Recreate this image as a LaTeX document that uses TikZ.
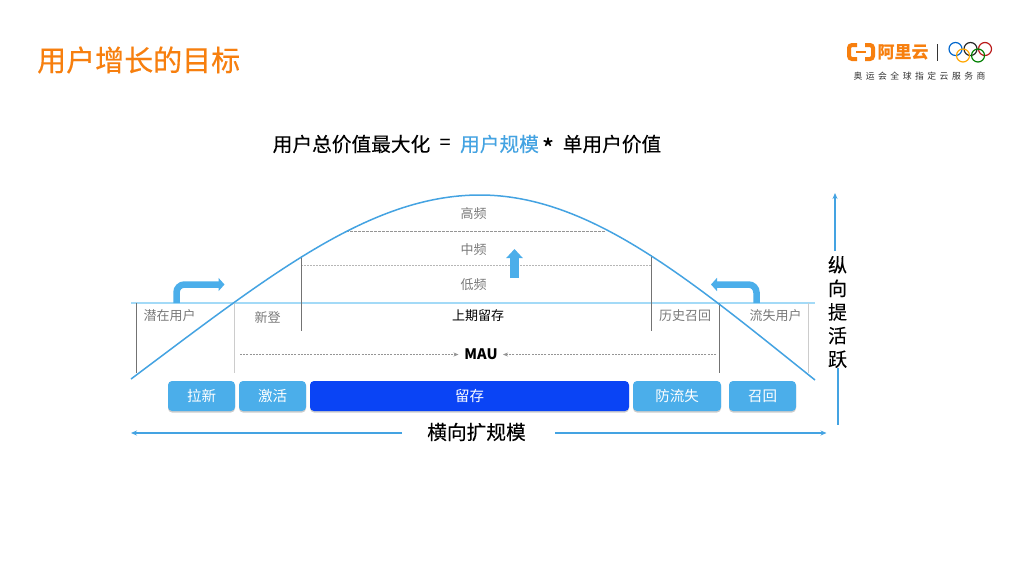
\documentclass[tikz,border=0pt]{standalone}
\usepackage{fontspec}
\setmainfont{Noto Sans CJK SC}
\newfontfamily\capfont[LetterSpace=40]{Noto Sans CJK SC}
\newfontfamily\headfont[FakeBold=0.35]{Noto Sans CJK SC}
\newfontfamily\formfont[FakeBold=0.2]{Noto Sans CJK SC}
\usetikzlibrary{arrows.meta,shadows}
\definecolor{aliorange}{HTML}{F77F0E}
\definecolor{skyblue}{HTML}{4BAEEA}
\definecolor{curveblue}{HTML}{44A3E2}
\definecolor{deepblue}{HTML}{0A44F5}
\definecolor{paleblue}{HTML}{A3DAF7}
\definecolor{labgray}{HTML}{7A7A7A}
\begin{document}
\begin{tikzpicture}[x=1pt,y=-1pt,>={Stealth[length=5pt,width=4pt]},
  btn/.style={fill=skyblue,rounded corners=4pt,minimum height=30pt,inner sep=0pt,text=white,font=\fontsize{14.5}{15}\selectfont,drop shadow={shadow xshift=0pt,shadow yshift=-1.5pt,opacity=.4}},
  lab/.style={text=labgray,font=\fontsize{13}{13}\selectfont,inner sep=0pt},
  big/.style={text=black,font=\formfont\fontsize{19.7}{20}\selectfont,inner sep=0pt},
  tick/.style={draw=black!55,line width=.8pt},
  tickl/.style={draw=black!20,line width=1pt},
  bluearrow/.style={draw=curveblue,line width=1.3pt,>={Stealth[length=6pt,width=5pt]}},
  thick arrow/.style={draw=skyblue,line width=6.5pt,rounded corners=8pt,-{Triangle[length=6pt,width=13pt]}},
  ring/.style={draw,line width=1.2pt,fill=none}]
  \useasboundingbox (0,0) rectangle (1024,576);
  \fill[white] (0,0) rectangle (1024,576);
  % title and logo
  \node[text=aliorange,font=\headfont\fontsize{29}{30}\selectfont,inner sep=0pt,anchor=west] (title) at (37,60) {用户增长的目标};
  \draw[aliorange,line width=4pt,rounded corners=3pt] (857,45) -- (849,45) -- (849,59) -- (857,59);
  \draw[aliorange,line width=4pt,rounded corners=3pt] (865,45) -- (873,45) -- (873,59) -- (865,59);
  \draw[aliorange,line width=2pt] (856,52) -- (866,52);
  \node[text=aliorange,font=\fontsize{17}{18}\bfseries\selectfont,inner sep=0pt] (logotext) at (903,52) {阿里云};
  \draw[black!80,line width=.8pt] (937.5,44) -- (937.5,61);
  \draw[ring,draw=blue!50!cyan!80!black] (955.5,49) circle (6.5);
  \draw[ring,draw=black!85] (970.5,49) circle (6.5);
  \draw[ring,draw=red!70!black!90] (985,49) circle (6.5);
  \draw[ring,draw=orange!70!yellow] (963,55.5) circle (6.5);
  \draw[ring,draw=green!50!black] (978,55.5) circle (6.5);
  \node[text=black!80,font=\capfont\fontsize{8.8}{9}\selectfont,inner sep=0pt] (logocap) at (919.5,76) {奥运会全球指定云服务商};
  % formula
  \node[big] (f1) at (351.5,144) {用户总价值最大化};
  \node[big] (feq) at (445,144) {=};
  \node[big,text=curveblue] (f2) at (499.5,144) {用户规模};
  \node[big,font=\formfont\fontsize{26}{26}\selectfont] (fstar) at (548,148) {*};
  \node[big] (f3) at (612,144) {单用户价值};
  % guide lines
  \draw[paleblue,line width=1.2pt] (131,303) -- (815,303);
  \draw[labgray!80,dashed,dash pattern=on 2.5pt off 1.5pt,line width=.6pt] (346,231.5) -- (606,231.5);
  \draw[labgray!55,dashed,dash pattern=on 1.5pt off 1.5pt,line width=.8pt] (301,265) -- (651,265);
  \draw[tick] (136.5,303) -- (136.5,373);
  \draw[tickl] (234,303) -- (234,373);
  \draw[tick] (301.5,256) -- (301.5,331);
  \draw[tick] (651.5,255) -- (651.5,331);
  \draw[tick] (719,303) -- (719,373);
  \draw[tickl] (808,303) -- (808,373);
  % curve
  \draw[curveblue,line width=1.5pt] (131,379) .. controls (270,275) and (370,195) .. (480,195) .. controls (590,195) and (690,280) .. (815,380);
  % labels
  \node[lab] (high) at (473.5,214) {高频};
  \node[lab] (mid) at (473.5,250) {中频};
  \node[lab] (low) at (473.5,285) {低频};
  \node[lab] (potential) at (169.5,316) {潜在用户};
  \node[lab] (newuser) at (267.5,317) {新登};
  \node[lab,text=black] (retained) at (478,316) {上期留存};
  \node[lab] (history) at (685,316) {历史召回};
  \node[lab] (lost) at (775.5,316) {流失用户};
  \node[font=\fontsize{14.5}{15}\bfseries\selectfont,inner sep=0pt] (mau) at (481,354) {MAU};
  \coordinate (mauleft) at (240,354.5);
  \coordinate (mauright) at (716,354.5);
  \draw[->,draw=labgray!80,dashed,dash pattern=on 2pt off 1.2pt,line width=.5pt] (mauleft) -- (458.5,354.5);
  \draw[->,draw=labgray!80,dashed,dash pattern=on 2pt off 1.2pt,line width=.5pt] (mauright) -- (503,354.5);
  % thick arrows
  \coordinate (pot0) at (176.5,303);
  \coordinate (pot1) at (176.5,284.5);
  \coordinate (pot2) at (224.5,284.5);
  \draw[thick arrow] (pot0) -- (pot1) -- (pot2);
  \coordinate (lost0) at (756.5,303);
  \coordinate (lost1) at (756.5,284.5);
  \coordinate (lost2) at (711,284.5);
  \draw[thick arrow] (lost0) -- (lost1) -- (lost2);
  \coordinate (up0) at (514.5,278);
  \coordinate (up1) at (514.5,249);
  \draw[draw=skyblue,line width=9pt,-{Triangle[length=9pt,width=16pt]}] (up0) -- (up1);
  % buttons
  \node[btn,minimum width=67pt] (b1) at (201.5,396) {拉新};
  \node[btn,minimum width=67pt] (b2) at (272.5,396) {激活};
  \node[btn,minimum width=319pt,fill=deepblue] (b3) at (469.5,396) {留存};
  \node[btn,minimum width=88pt] (b4) at (677,396) {防流失};
  \node[btn,minimum width=67pt] (b5) at (762.5,396) {召回};
  % axes
  \node[big,align=center,font=\formfont\fontsize{19}{23.6}\selectfont] (vert) at (837.5,312) {纵\\向\\提\\活\\跃};
  \coordinate (vtop) at (835,193);
  \coordinate (vbot) at (838,425);
  \draw[->,bluearrow] (835,251) -- (vtop);
  \draw[bluearrow] (vert.south -| vbot) -- (vbot);
  \node[big] (horiz) at (476.5,432) {横向扩规模};
  \coordinate (hleft) at (131,433);
  \coordinate (hright) at (826.5,433);
  \draw[->,bluearrow] (402,433) -- (hleft);
  \draw[->,bluearrow] (555,433) -- (hright);
\end{tikzpicture}
\end{document}
